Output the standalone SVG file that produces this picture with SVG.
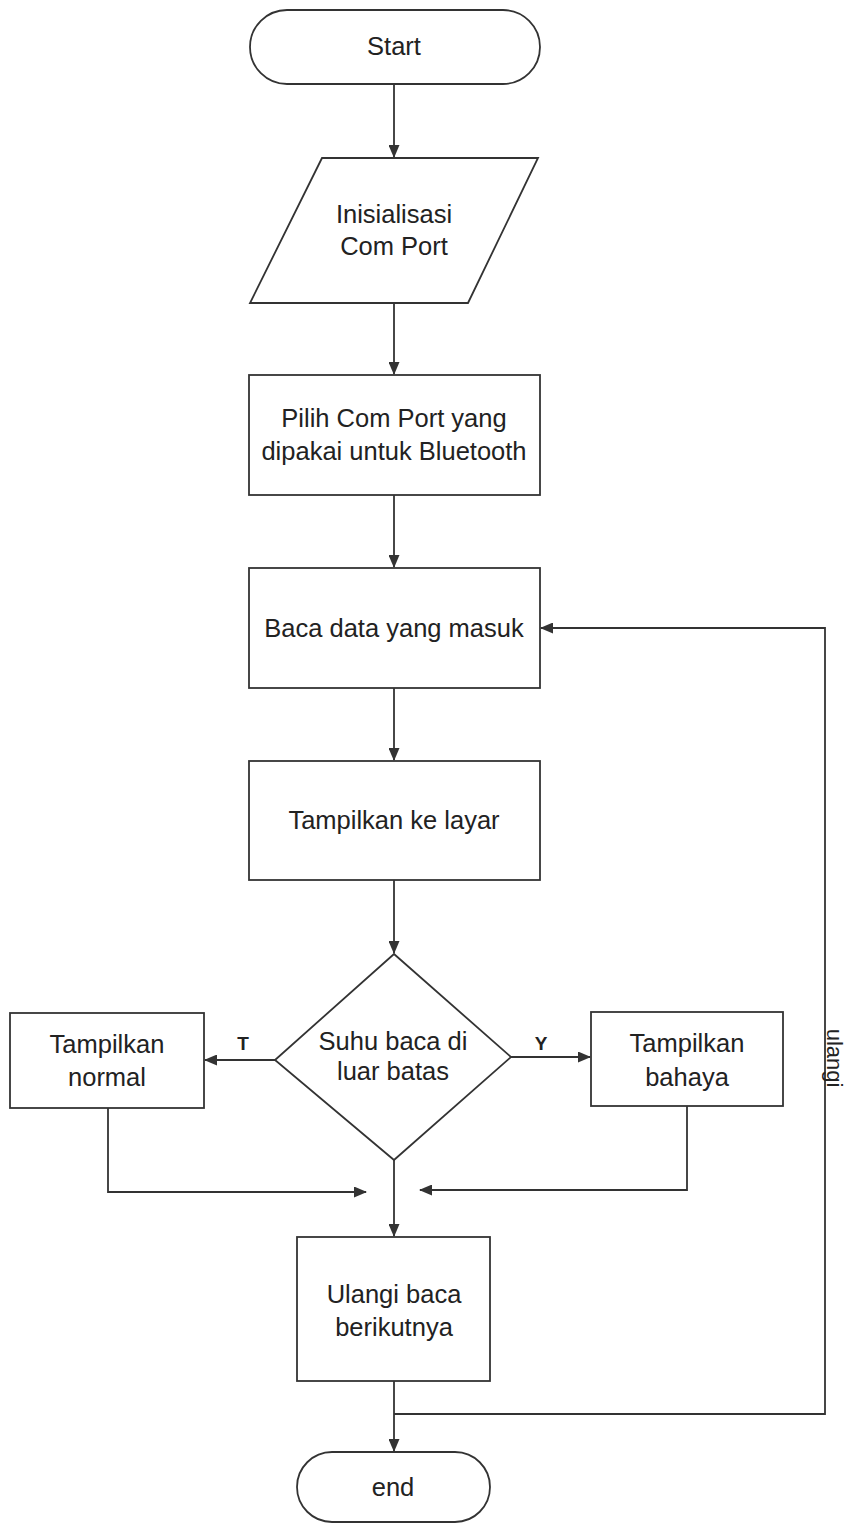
<svg xmlns="http://www.w3.org/2000/svg" width="845" height="1525" viewBox="0 0 845 1525">
<defs>
<marker id="ah" markerWidth="13" markerHeight="11" refX="12" refY="5.5" orient="auto" markerUnits="userSpaceOnUse">
<path d="M0,0 L13,5.5 L0,11 Z" fill="#333"/>
</marker>
<style>
.s{fill:#fff;stroke:#333;stroke-width:1.8}
.c{fill:none;stroke:#333;stroke-width:1.8}
.t{font-family:"Liberation Sans",Arial,sans-serif;font-size:25.5px;fill:#222;text-anchor:middle;dominant-baseline:central}
.b{font-weight:bold;font-size:19px}
.r{font-size:22px}
</style>
</defs>
<rect width="845" height="1525" fill="#fff"/>
<g id="connectors">
<path class="c" d="M394,84 V157" marker-end="url(#ah)"/>
<path class="c" d="M394,303 V374" marker-end="url(#ah)"/>
<path class="c" d="M394,495 V567" marker-end="url(#ah)"/>
<path class="c" d="M394,688 V760" marker-end="url(#ah)"/>
<path class="c" d="M394,880 V953" marker-end="url(#ah)"/>
<path class="c" d="M275,1060 H205" marker-end="url(#ah)"/>
<path class="c" d="M511,1057 H590" marker-end="url(#ah)"/>
<path class="c" d="M108,1108 V1192 H366" marker-end="url(#ah)"/>
<path class="c" d="M687,1106 V1190 H420" marker-end="url(#ah)"/>
<path class="c" d="M394,1160 V1236" marker-end="url(#ah)"/>
<path class="c" d="M394,1381 V1451" marker-end="url(#ah)"/>
<path class="c" d="M394,1414 H825 V628 H541" marker-end="url(#ah)"/>
<text class="t b" x="243" y="1043">T</text>
<text class="t b" x="541" y="1043">Y</text>
<text class="t r" transform="translate(834,1058) rotate(90)">ulangi</text>
</g>
<g id="start">
<rect class="s" x="250" y="10" width="290" height="74" rx="37"/>
<text class="t" x="394" y="46">Start</text>
</g>
<g id="init">
<path class="s" d="M322,158 H538 L468,303 H250 Z"/>
<text class="t" x="394" y="214">Inisialisasi</text>
<text class="t" x="394" y="246">Com Port</text>
</g>
<g id="pilih">
<rect class="s" x="249" y="375" width="291" height="120"/>
<text class="t" x="394" y="418">Pilih Com Port yang</text>
<text class="t" x="394" y="451">dipakai untuk Bluetooth</text>
</g>
<g id="baca">
<rect class="s" x="249" y="568" width="291" height="120"/>
<text class="t" x="394" y="628">Baca data yang masuk</text>
</g>
<g id="tampil">
<rect class="s" x="249" y="761" width="291" height="119"/>
<text class="t" x="394" y="820">Tampilkan ke layar</text>
</g>
<g id="decision">
<path class="s" d="M394,954 L511,1057 L394,1160 L275,1060 Z"/>
<text class="t" x="393" y="1041">Suhu baca di</text>
<text class="t" x="393" y="1071">luar batas</text>
</g>
<g id="normal">
<rect class="s" x="10" y="1013" width="194" height="95"/>
<text class="t" x="107" y="1044">Tampilkan</text>
<text class="t" x="107" y="1077">normal</text>
</g>
<g id="bahaya">
<rect class="s" x="591" y="1012" width="192" height="94"/>
<text class="t" x="687" y="1043">Tampilkan</text>
<text class="t" x="687" y="1077">bahaya</text>
</g>
<g id="ulangi">
<rect class="s" x="297" y="1237" width="193" height="144"/>
<text class="t" x="394" y="1294">Ulangi baca</text>
<text class="t" x="394" y="1327">berikutnya</text>
</g>
<g id="end">
<rect class="s" x="297" y="1452" width="193" height="70" rx="35"/>
<text class="t" x="393" y="1487">end</text>
</g>
</svg>
